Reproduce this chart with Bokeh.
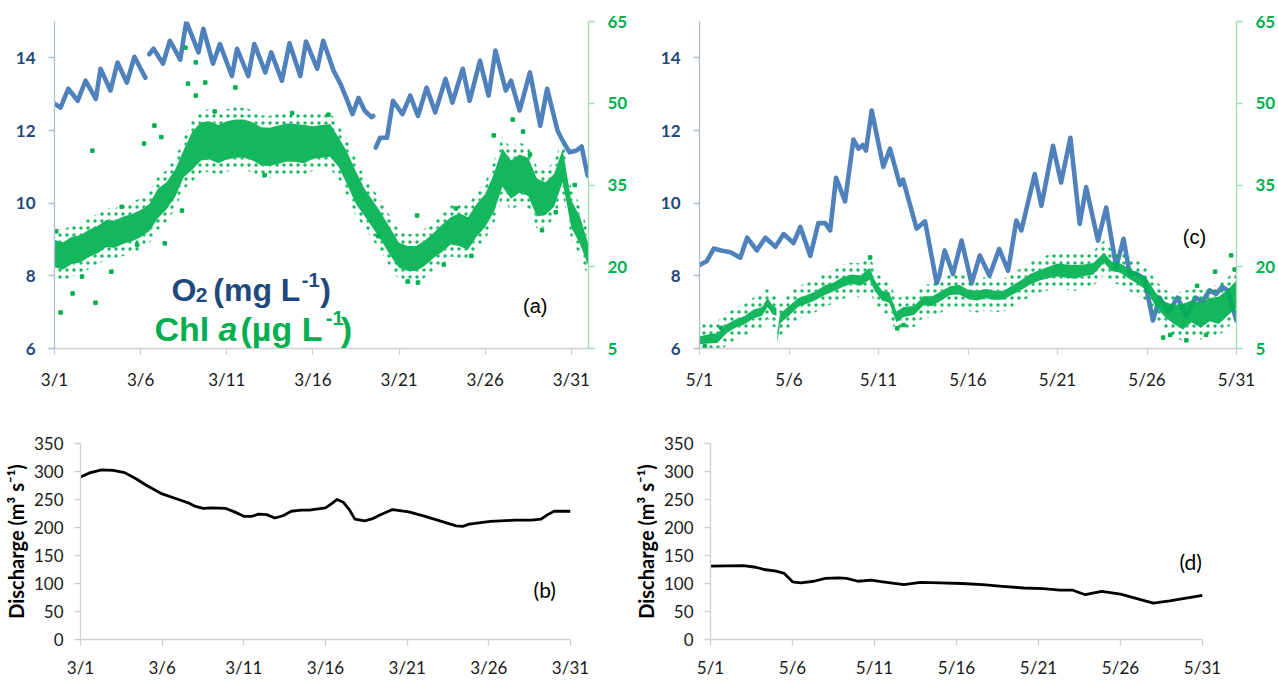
from bokeh.plotting import figure
from bokeh.models import Range1d, LinearAxis, FixedTicker, Label
from bokeh.layouts import column, row
from bokeh.embed import file_html
from bokeh.resources import INLINE

NAN = float("nan")
O2_BLUE = "#4F81BD"
NAVY = "#1F497D"
GREEN = "#00B050"

# ---------------- tick labels ----------------
tick_days = [0, 5, 10, 15, 20, 25, 30]
mar_labels = ["3/1", "3/6", "3/11", "3/16", "3/21", "3/26", "3/31"]
may_labels = ["5/1", "5/6", "5/11", "5/16", "5/21", "5/26", "5/31"]
o2_ticks = [6, 8, 10, 12, 14]
chl_ticks = [5, 20, 35, 50, 65]
q_ticks = [0, 50, 100, 150, 200, 250, 300, 350]

# ---------------- (a) March O2 (mg/L), days since 3/1 ----------------
o2_mar_day = [0, 0.35, 0.8, 1.35, 1.8, 2.4, 2.67, 3.25, 3.66, 4.2, 4.64, 5.28, NAN,
              5.5, 5.75, 6.3, 6.7, 7.3, 7.65, 8.36, 8.64, 9.2, 9.6, 10.3, 10.6, 11.25,
              11.6, 12.24, 12.58, 13.2, 13.64, 14.27, 14.6, 15.25, 15.6, 16.2, 16.6,
              17.0, 17.3, 17.65, 18.0, 18.4, 18.5, NAN,
              18.65, 18.9, 19.3, 19.65, 20.2, 20.65, 21.1, 21.6, 22.1, 22.7, 23.1, 23.7,
              24.1, 24.7, 25.2, 25.6, 26.2, 26.5, 27.0, 27.6, 28.2, 28.6, 29.2, 29.5,
              29.9, 30.3, 30.6, 30.95]
o2_mar_val = [12.74, 12.63, 13.15, 12.82, 13.37, 12.87, 13.7, 13.1, 13.87, 13.32, 14.03, 13.45, NAN,
              14.1, 14.25, 13.84, 14.47, 13.95, 15.0, 14.15, 14.8, 13.84, 14.38, 13.5, 14.25, 13.5,
              14.38, 13.6, 14.15, 13.37, 14.4, 13.5, 14.45, 13.7, 14.47, 13.65, 13.28,
              12.82, 12.45, 12.9, 12.55, 12.37, 12.4, NAN,
              11.53, 11.8, 11.8, 12.82, 12.45, 12.96, 12.4, 13.18, 12.5, 13.42, 12.77, 13.7,
              12.82, 13.92, 12.96, 14.2, 13.1, 13.37, 12.55, 13.6, 12.13, 13.15, 12.0, 11.72,
              11.4, 11.45, 11.56, 10.76]

# ---------------- (a) March Chl a (ug/L) dense band ----------------
chl_mar_day = [0, 0.5, 1, 1.5, 2, 2.5, 3, 3.5, 4, 4.5, 5, 5.5, 6, 6.5, 7, 7.5, 8, 8.5, 9, 9.5,
               10, 10.5, 11, 11.5, 12, 12.5, 13, 13.5, 14, 14.5, 15, 15.5, 16, 16.5, 17, 17.5,
               18, 18.5, 19, 19.5, 20, 20.5, 21, 21.5, 22, 22.5, 23, 23.5, 24, 24.5, 25, 25.5,
               26, 26.5, 27, 27.5, 28, 28.5, 29, 29.5, 30, 30.5, 31]
chl_mar_low = [19.9, 19.5, 20.5, 20.8, 21.8, 22.5, 23.6, 23.5, 24.2, 24.7, 25.4, 26.5, 28.9, 30.5,
               32.8, 36.4, 37.8, 39.5, 39.7, 39.0, 39.7, 40.0, 40.0, 39.5, 38.6, 38.5, 38.9, 39.3,
               39.2, 39.0, 39.8, 40.0, 40.2, 38.3, 35.0, 31.5, 29.3, 27.0, 24.7, 22.0, 19.8, 19.2,
               19.2, 20.2, 21.6, 22.7, 24.1, 23.8, 23.1, 25.5, 27.3, 30.0, 34.7, 32.5, 33.6, 33.0,
               29.2, 29.5, 31.0, 35.5, 27.2, 24.2, 20.1]
chl_mar_high = [24.9, 24.5, 25.5, 25.8, 26.8, 27.5, 28.6, 28.5, 29.2, 29.7, 30.4, 31.5, 34.3, 35.5,
                37.8, 41.4, 44.8, 46.5, 46.7, 46.0, 46.7, 47.0, 47.0, 46.5, 45.6, 45.5, 45.9, 46.3,
                46.2, 46.0, 45.8, 46.0, 46.2, 43.7, 41.0, 37.5, 34.3, 32.0, 29.7, 27.0, 24.4, 23.8,
                23.8, 24.8, 26.2, 27.7, 29.1, 29.8, 29.1, 31.5, 33.3, 37.0, 41.7, 39.5, 40.6, 40.0,
                36.2, 35.5, 37.0, 41.5, 32.2, 29.2, 24.1]
# scattered Chl readings outside the dense band
chl_mar_out_day = [0.35, 1.05, 2.38, 2.2, 3.3, 5.8, 6.2, 5.2, 7.6, 8.2, 7.75, 8.75, 8.2, 10.5,
                   6.4, 7.4, 21.1, 20.5, 27.6, 28.3, 25.5, 26.6, 23.3, 21.05, 0.1, 1.6, 3.9,
                   4.8, 9.3, 12.2, 13.8, 15.9, 18.8, 22.6, 24.2, 27.2, 29.1, 30.2]
chl_mar_out_val = [11.6, 15.1, 13.4, 41.3, 19.1, 45.9, 43.8, 42.6, 60.2, 57.5, 53.6, 53.8, 51.4, 52.9,
                   24.3, 30.3, 17.1, 17.3, 40.6, 26.7, 44.1, 47.0, 30.7, 29.4, 26.5, 18.2, 31.0,
                   24.0, 48.5, 36.8, 48.2, 47.9, 25.6, 20.4, 22.0, 44.8, 30.0, 35.0]

# ---------------- (c) May O2 (mg/L), days since 5/1 ----------------
o2_may_day = [0, 0.4, 0.8, 1.2, 1.73, 2.28, 2.66, 3.2, 3.68, 4.24, 4.7, 5.25, 5.63, 6.19, 6.64,
              7.02, 7.3, 7.63, 8.13, 8.6, 8.88, 9.12, 9.3, 9.62, 10.27, 10.64, 11.2, 11.37,
              12.13, 12.6, 13.25, 13.4, 13.7, 14.16, 14.64, 15.2, 15.66, 16.2, 16.74, 17.24,
              17.7, 17.98, 18.73, 19.1, 19.75, 20.2, 20.72, 21.24, 21.6, 22.26, 22.72, 23.28,
              23.69, 24.03, 24.4, 24.86, 25.33, 25.7, 26.2, 26.7, 27.2, 27.7, 28.1, 28.5, 28.86,
              29.2, 29.5, 30]
o2_may_val = [8.3, 8.4, 8.75, 8.7, 8.65, 8.5, 9.05, 8.7, 9.05, 8.8, 9.15, 8.9, 9.35, 8.55, 9.45,
              9.45, 9.25, 10.7, 10.05, 11.75, 11.5, 11.6, 11.45, 12.55, 11.0, 11.5, 10.5, 10.65,
              9.3, 9.5, 7.8, 8.0, 8.7, 8.05, 8.97, 7.79, 8.56, 8.0, 8.74, 8.14,
              9.52, 9.25, 10.8, 9.93, 11.58, 10.57, 11.8, 9.43, 10.44, 8.97, 9.88, 8.24,
              9.02, 8.06, 8.06, 7.92, 6.77, 7.4, 7.0, 7.4, 6.9, 7.4, 7.3, 7.6, 7.5,
              7.7, 7.6, 6.77]

# ---------------- (c) May Chl a (ug/L) dense band, two logging segments ----------------
chl_may1_day = [0, 0.5, 1, 1.5, 2, 2.5, 3, 3.5, 3.8, 4.1, 4.3]
chl_may1_low = [5.8, 5.9, 6.0, 7.8, 8.8, 9.4, 10.5, 11.0, 12.6, 11.2, 11.0]
chl_may1_high = [7.2, 7.6, 7.8, 9.4, 10.3, 10.9, 12.1, 12.6, 14.3, 12.8, 12.5]
chl_may2_day = [4.35, 4.5, 5.0, 5.5, 6.0, 6.5, 7.0, 7.5, 8.0, 8.5, 9.0, 9.5, 9.8, 10.2, 10.6,
                11.0, 11.4, 12.0, 12.5, 13.0, 13.5, 14.0, 14.5, 15.0, 15.5, 16.0, 16.5, 17.0,
                17.5, 18.0, 18.5, 19.0, 19.5, 20.0, 20.5, 21.0, 21.5, 22.0, 22.6, 23.0, 23.5,
                24.0, 24.5, 25.0, 25.5, 26.0, 26.5, 27.0, 27.5, 28.0, 28.5, 29.0, 29.5, 30.0]
chl_may2_low = [6.0, 9.6, 11.0, 12.6, 13.2, 13.9, 14.8, 15.5, 16.3, 16.9, 16.5, 17.6, 15.5, 13.8,
                13.4, 9.8, 10.8, 11.2, 12.9, 12.8, 13.8, 14.8, 14.9, 14.1, 13.8, 14.2, 13.9, 14.0,
                14.9, 15.8, 16.8, 17.5, 17.9, 18.2, 18.0, 17.8, 18.3, 18.6, 20.8, 19.2, 18.9,
                17.8, 16.8, 15.6, 12.6, 10.8, 9.5, 8.5, 9.8, 8.8, 10.0, 9.5, 11.0, 12.5]
chl_may2_high = [8.0, 11.4, 12.8, 14.2, 14.8, 15.5, 16.6, 17.1, 18.1, 18.6, 18.4, 19.8, 17.5, 15.6,
                 15.3, 11.8, 12.6, 12.8, 14.6, 14.6, 15.5, 16.4, 16.7, 15.8, 15.6, 15.9, 15.6, 15.6,
                 16.6, 17.6, 18.7, 19.4, 20.0, 20.6, 20.4, 20.3, 20.4, 20.7, 22.6, 21.0, 20.6,
                 19.7, 18.8, 17.8, 15.2, 13.6, 13.0, 13.2, 13.8, 13.5, 14.2, 14.5, 15.8, 17.5]
chl_may_out_day = [9.53, 11.05, 11.4, 29.7, 28.8, 27.2, 26.3, 28.3, 1.2, 0.3, 29.9, 27.8, 25.9]
chl_may_out_val = [21.7, 8.7, 9.3, 22.1, 19.1, 6.5, 7.5, 7.5, 8.8, 5.4, 19.5, 16.5, 7.0]

# ---------------- (b), (d) discharge (m3/s) ----------------
q_mar_day = [0, 0.6, 1.3, 2.0, 2.7, 3.4, 4, 5, 6, 6.6, 7, 7.5, 8, 8.9, 9.5, 10, 10.5, 10.9, 11.4,
             11.9, 12.4, 12.9, 13.5, 14, 15, 15.4, 15.7, 16.1, 16.5, 16.8, 17.4, 17.9, 18.3,
             19.1, 20.1, 21.1, 22.1, 23, 23.4, 23.8, 25.1, 26.6, 27.6, 28.2, 28.6, 29, 30]
q_mar_val = [290, 298, 303, 302, 298, 287, 276, 260, 250, 244, 238, 234, 235, 234, 227, 220, 220,
             224, 223, 217, 221, 229, 231, 231, 235, 243, 250, 245, 230, 215, 212, 216, 222,
             232, 228, 220, 211, 203, 202, 206, 211, 213, 213, 215, 223, 229, 229]
q_may_day = [0, 1, 2, 2.76, 3.26, 4.0, 4.5, 5.0, 5.5, 6.3, 7.0, 7.8, 8.3, 9.0, 9.8, 10.5, 11.8,
             12.8, 14, 15.3, 16.6, 17.8, 19.1, 20.3, 21.3, 22.1, 22.85, 23.85, 25, 26, 27, 28,
             29, 30]
q_may_val = [131, 131.5, 132, 129, 125, 122, 118, 103, 101, 104, 109, 110, 109, 104, 106, 103, 98,
             102, 101, 100, 98, 95, 92, 91, 88, 88, 80, 86, 81, 73, 65, 69, 74, 79]

TICK_FONT = "Lato"
FRINGE = 2.2  # width (ug/L) of the sparse speckled fringe drawn around the dense Chl band


def style_axis(ax, ticks, labels, color, label_color, size, bold=False, standoff=13):
    ax.ticker = FixedTicker(ticks=ticks)
    if labels is not None:
        ax.major_label_overrides = {t: l for t, l in zip(ticks, labels)}
    ax.axis_line_color = color
    ax.axis_line_width = 1.3
    ax.major_tick_line_color = color
    ax.major_tick_line_width = 1.3
    ax.major_tick_out = 6
    ax.major_tick_in = 0
    ax.minor_tick_out = 0
    ax.minor_tick_in = 0
    ax.major_label_standoff = standoff
    ax.major_label_text_font = TICK_FONT
    ax.major_label_text_font_size = size
    ax.major_label_text_color = label_color
    ax.major_label_text_font_style = "bold" if bold else "normal"


def top_panel(x_end, width, left, right, xlabels, o2d, o2v, bands, outd, outv,
              left_axis_color):
    p = figure(width=width, height=400, x_range=Range1d(0, x_end), y_range=Range1d(6, 15),
               output_backend="svg", toolbar_location=None, min_border=0,
               min_border_left=left, min_border_right=right, min_border_top=21,
               min_border_bottom=52)
    p.extra_y_ranges = {"chl": Range1d(5, 65)}
    p.add_layout(LinearAxis(y_range_name="chl"), "right")
    p.xgrid.visible = False
    p.ygrid.visible = False
    p.outline_line_color = None
    p.background_fill_color = "white"
    p.border_fill_color = "white"
    style_axis(p.xaxis[0], tick_days, xlabels, "#D0D0D0", "#1a1a1a", "17px", standoff=14)
    style_axis(p.yaxis[0], o2_ticks, None, left_axis_color, NAVY, "17px", bold=True)
    style_axis(p.yaxis[1], chl_ticks, None, "#9BDDB0", GREEN, "17px", bold=True)
    p.line(o2d, o2v, line_width=4.6, color=O2_BLUE, line_join="round", line_cap="round")
    for bd, bl, bh in bands:
        p.varea(x=bd, y1=[v - FRINGE for v in bl], y2=bl, fill_alpha=0,
                hatch_pattern="dot", hatch_color=GREEN, hatch_scale=7, hatch_weight=3,
                hatch_alpha=0.9, y_range_name="chl")
        p.varea(x=bd, y1=bh, y2=[v + FRINGE for v in bh], fill_alpha=0,
                hatch_pattern="dot", hatch_color=GREEN, hatch_scale=7, hatch_weight=3,
                hatch_alpha=0.9, y_range_name="chl")
        p.varea(x=bd, y1=bl, y2=bh, fill_color=GREEN, fill_alpha=0.92, y_range_name="chl")
    p.scatter(outd, outv, marker="square", size=3.5, color=GREEN, y_range_name="chl")
    return p


pa = top_panel(31, 630, 54, 42, mar_labels, o2_mar_day, o2_mar_val,
               [(chl_mar_day, chl_mar_low, chl_mar_high)], chl_mar_out_day, chl_mar_out_val,
               "#A9BDDD")
pc = top_panel(30, 648, 69, 41, may_labels, o2_may_day, o2_may_val,
               [(chl_may1_day, chl_may1_low, chl_may1_high),
                (chl_may2_day, chl_may2_low, chl_may2_high)],
               chl_may_out_day, chl_may_out_val, "#B0BACD")

# legend text in panel (a), Arial-like bold, built from pieces
LF = "Liberation Sans"
legend_pieces = [
    ("O", 6.79, 7.60, "32px", NAVY, "bold"),
    ("2", 8.2, 7.46, "21px", NAVY, "bold"),
    ("(mg L", 9.22, 7.60, "32px", NAVY, "bold"),
    ("-1", 14.36, 7.88, "20px", NAVY, "bold"),
    (")", 15.43, 7.60, "32px", NAVY, "bold"),
    ("Chl", 5.8, 6.55, "34px", GREEN, "bold"),
    ("a", 9.52, 6.55, "34px", GREEN, "bold italic"),
    ("(\u00b5g L", 10.8, 6.55, "34px", GREEN, "bold"),
    ("-1", 15.75, 6.84, "20px", GREEN, "bold"),
    (")", 16.62, 6.55, "34px", GREEN, "bold"),
]
for t, x, y, fs, col, st in legend_pieces:
    pa.add_layout(Label(x=x, y=y, text=t, text_font=LF, text_font_size=fs, text_color=col,
                        text_font_style=st, text_baseline="alphabetic", text_align="left"))

pa.add_layout(Label(x=27.2, y=7.16, text="(a)", text_font=LF, text_font_size="20px",
                    text_color="black", text_baseline="middle", text_align="left"))
pc.add_layout(Label(x=27.0, y=9.08, text="(c)", text_font=LF, text_font_size="20px",
                    text_color="black", text_baseline="middle", text_align="left"))


def bottom_panel(width, left, right, top, bottom, xlabels, qd, qv):
    p = figure(width=width, height=280, x_range=Range1d(0, 30), y_range=Range1d(0, 350),
               output_backend="svg", toolbar_location=None, min_border=0,
               min_border_left=left, min_border_right=right, min_border_top=top,
               min_border_bottom=bottom)
    p.xgrid.visible = False
    p.ygrid.visible = False
    p.outline_line_color = None
    style_axis(p.xaxis[0], tick_days, xlabels, "#D0D0D0", "#1a1a1a", "17px", standoff=11)
    style_axis(p.yaxis[0], q_ticks, None, "#D0D0D0", "#1a1a1a", "17px", standoff=11)
    p.yaxis[0].axis_label = "Discharge (m\u00b3 s\u207b\u00b9)"
    p.yaxis[0].axis_label_text_font = TICK_FONT
    p.yaxis[0].axis_label_text_font_size = "20px"
    p.yaxis[0].axis_label_text_font_style = "bold"
    p.yaxis[0].axis_label_text_color = "black"
    p.yaxis[0].axis_label_standoff = 3
    p.line(qd, qv, line_width=2.8, color="black", line_join="round")
    return p


pb = bottom_panel(630, 78, 60, 36, 36, mar_labels, q_mar_day, q_mar_val)
pd_ = bottom_panel(648, 79, 76, 43, 41, may_labels, q_may_day, q_may_val)
pb.add_layout(Label(x=27.74, y=90, text="(b)", text_font=TICK_FONT, text_font_size="21px",
                    text_color="black", text_baseline="middle", text_align="left"))
pd_.add_layout(Label(x=28.6, y=139, text="(d)", text_font=TICK_FONT, text_font_size="21px",
                     text_color="black", text_baseline="middle", text_align="left"))

layout = column(row(pa, pc), row(pb, pd_))
open("out.html", "w").write(file_html(layout, INLINE))
